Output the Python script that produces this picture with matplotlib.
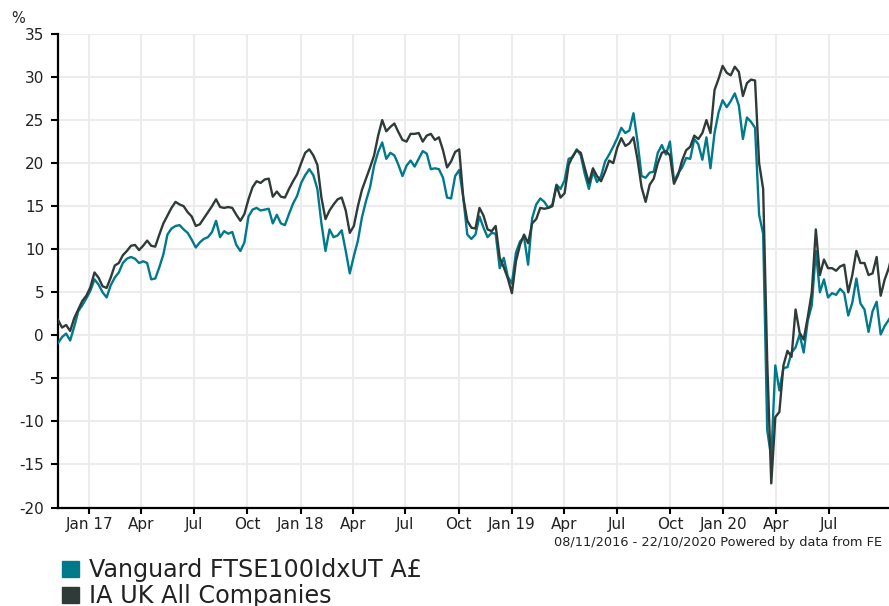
import matplotlib
matplotlib.use("Agg")
import matplotlib.pyplot as plt
from matplotlib.patches import Rectangle
import pandas as pd

plt.rcParams["axes.unicode_minus"] = False

# weekly readings, starting 08/11/2016
start_date = "2016-11-08"
end_date = "2020-10-22"

fund_name = "Vanguard FTSE100IdxUT A£"
fund_values = [
    -0.9, -0.2, 0.2, -0.6, 1.0, 2.8, 3.5, 4.3, 5.2, 6.5,
    5.9, 5.0, 4.4, 5.8, 6.7, 7.3, 8.4, 8.9, 9.1, 8.9,
    8.4, 8.6, 8.4, 6.5, 6.6, 7.9, 9.4, 11.7, 12.4, 12.7,
    12.8, 12.3, 11.9, 11.1, 10.2, 10.8, 11.2, 11.4, 12.0, 13.3,
    11.4, 12.1, 11.8, 12.0, 10.5, 9.8, 10.8, 13.8, 14.6, 14.8,
    14.5, 14.6, 14.7, 13.0, 14.0, 13.0, 12.8, 14.1, 15.3, 16.2,
    17.7, 18.6, 19.3, 18.6, 17.0, 13.0, 9.8, 12.3, 11.4, 11.6,
    12.2, 9.8, 7.2, 9.2, 11.0, 13.7, 15.6, 17.2, 19.7, 21.3,
    22.4, 20.5, 21.2, 20.9, 19.8, 18.5, 19.7, 20.3, 19.6, 20.5,
    21.4, 21.1, 19.3, 19.4, 19.3, 18.3, 16.0, 15.9, 18.5, 19.2,
    16.0, 11.7, 11.2, 11.7, 13.8, 12.5, 11.4, 11.9, 11.8, 7.8,
    9.0, 6.8, 6.0, 9.6, 10.9, 11.4, 8.2, 13.6, 15.2, 15.9,
    15.5, 14.8, 15.2, 17.5, 17.0, 18.0, 20.5, 20.7, 21.6, 20.9,
    18.7, 17.0, 19.0, 17.8, 18.5, 20.2, 21.0, 21.9, 22.9, 24.1,
    23.5, 23.8, 25.8, 22.5, 18.5, 18.3, 18.9, 19.0, 21.2, 22.1,
    21.0, 22.5, 17.9, 18.8, 19.5, 20.6, 20.5, 22.8, 22.2, 20.4,
    23.0, 19.4, 23.5, 25.9, 27.3, 26.5, 27.2, 28.1, 26.7, 22.8,
    25.3, 24.8, 24.1, 14.0, 11.8, -11.0, -14.2, -3.5, -6.4, -3.8,
    -3.7, -2.0, -1.4, 0.1, -2.0, 1.7, 3.5, 9.8, 5.0, 6.5,
    4.4, 4.9, 4.7, 5.4, 4.9, 2.3, 3.8, 6.6, 3.7, 3.0,
    0.4, 2.8, 3.9, 0.1, 1.1, 1.8, 2.6,
]

sector_name = "IA UK All Companies"
sector_values = [
    1.8, 0.9, 1.2, 0.5, 2.0, 3.0, 4.0, 4.6, 5.6, 7.3,
    6.7, 5.7, 5.5, 6.7, 8.1, 8.4, 9.3, 9.8, 10.4, 10.5,
    9.9, 10.4, 11.0, 10.4, 10.3, 11.7, 13.0, 13.9, 14.8, 15.5,
    15.2, 15.0, 14.3, 13.8, 12.7, 12.9, 13.6, 14.3, 15.0, 15.8,
    14.9, 14.8, 14.9, 14.8, 14.0, 13.3, 14.1, 15.8, 17.2, 17.9,
    17.7, 18.1, 18.2, 16.1, 16.7, 16.1, 16.0, 17.0, 17.9, 18.7,
    20.0, 21.2, 21.6, 20.9, 19.8, 16.0, 13.5, 14.5, 15.2, 15.8,
    16.0, 14.5, 11.9, 12.7, 15.0, 16.9, 18.2, 19.5, 20.9, 23.2,
    25.0, 23.7, 24.2, 24.6, 23.6, 22.7, 22.5, 23.4, 23.4, 23.5,
    22.5, 23.2, 23.4, 22.7, 23.0, 21.5, 19.5, 20.2, 21.3, 21.6,
    16.0, 13.3, 12.5, 12.4, 14.8, 13.9, 12.3, 12.1, 12.7, 9.0,
    7.9, 6.6, 4.9, 8.6, 10.5, 11.7, 10.7, 13.0, 13.5, 14.8,
    14.7, 14.8, 15.0, 17.4, 16.0, 16.5, 19.8, 20.8, 21.5, 21.2,
    19.4, 17.7, 19.4, 18.5, 17.9, 19.0, 20.3, 20.0, 21.8, 22.9,
    22.0, 22.3, 23.0, 20.4, 17.2, 15.5, 17.5, 18.2, 20.0, 21.2,
    21.4, 20.9, 17.6, 18.6, 20.3, 21.5, 21.9, 23.2, 22.8, 23.5,
    25.0, 23.5, 28.5, 29.8, 31.3, 30.5, 30.2, 31.2, 30.6, 27.8,
    29.3, 29.7, 29.6, 20.0, 17.0, -3.0, -17.2, -9.5, -8.9, -3.5,
    -1.8, -2.5, 3.0, 0.3, -0.5, 2.1, 5.0, 12.3, 7.0, 8.8,
    7.8, 7.8, 7.5, 8.0, 8.2, 5.0, 7.0, 9.8, 8.4, 8.4,
    7.0, 7.2, 9.1, 4.6, 6.5, 7.8, 9.8,
]

y_ticks = list(range(-20, 36, 5))
footer = "08/11/2016 - 22/10/2020 Powered by data from FE"

teal = "#00798a"
dark = "#2f3b39"
grid_col = "#ececec"
text_col = "#222222"

dates = pd.date_range(start_date, periods=len(fund_values), freq="7D")
x_ticks = pd.date_range("2017-01-01", "2020-07-01", freq="QS")

fig = plt.figure(figsize=(8.89, 6.06), dpi=100)
# plot area runs slightly past the right edge, as in the original
ax = fig.add_axes([58 / 889, 98.5 / 606, 836 / 889, 473.5 / 606])

ax.plot(dates, fund_values, color=teal, lw=1.7, zorder=3)
ax.plot(dates, sector_values, color=dark, lw=1.7, zorder=4)

ax.set_xlim(pd.Timestamp(start_date), pd.Timestamp(end_date))
ax.set_ylim(-20, 35)
ax.set_yticks(y_ticks)
ax.set_xticks(x_ticks)
ax.set_xticklabels([d.strftime("%b %y") if d.month == 1 else d.strftime("%b") for d in x_ticks])

ax.grid(True, color=grid_col, lw=1.5, zorder=0)
ax.set_axisbelow(True)
for side in ["top", "right"]:
    ax.spines[side].set_visible(False)
for side in ["left", "bottom"]:
    ax.spines[side].set_linewidth(1.6)
    ax.spines[side].set_color("black")
ax.tick_params(axis="both", direction="out", length=5, width=1.5, color="black",
               labelcolor=text_col, labelsize=11)
ax.tick_params(axis="y", pad=5)
ax.tick_params(axis="x", pad=3, length=4)

fig.text(11 / 889, 1 - 23 / 606, "%", fontsize=10.5, color=text_col)
fig.text(554 / 889, 1 - 546 / 606, footer, fontsize=9.25, color=text_col)

# legend rows
for i, (name, col) in enumerate([(fund_name, teal), (sector_name, dark)]):
    y0 = 1 - (577 + i * 26) / 606
    fig.patches.append(Rectangle((62 / 889, y0), 17 / 889, 16 / 606, color=col,
                                 transform=fig.transFigure, figure=fig))
    fig.text(89 / 889, y0 + 0.5 / 606, name, fontsize=17.2, color=text_col)

fig.savefig("out.png", dpi=100)
